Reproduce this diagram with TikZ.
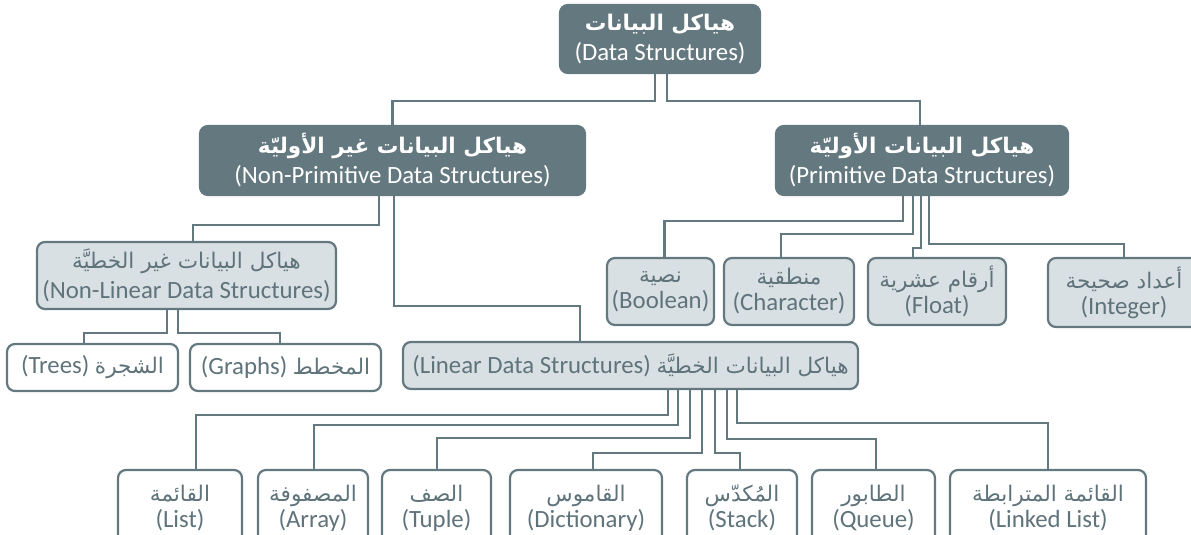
\documentclass[tikz,border=0pt]{standalone}
\usepackage{fontspec}
\setmainfont{Carlito}
\newfontfamily\arabicfont[Script=Arabic,Scale=0.87]{DejaVu Sans}
\TeXXeTstate=1
\usetikzlibrary{calc}

\definecolor{slate}{HTML}{647880}
\definecolor{mist}{HTML}{D9E0E3}
\definecolor{ink}{HTML}{5F737B}
\newcommand\ar[1]{{\arabicfont\beginR#1\endR}}

\tikzset{
  wh/.style 2 args={minimum width=#1*0.5pt,minimum height=#2*0.5pt},
  base/.style={draw=slate,line width=1.1pt,rounded corners=4pt,inner sep=0pt,align=center,font=\fontsize{12.4}{15}\selectfont},
  head/.style={base,fill=slate,text=white},
  sub/.style={base,fill=mist,text=ink},
  leaf/.style={base,fill=white,text=ink},
  tight/.style={font=\fontsize{12.4}{13}\selectfont},
  link/.style={draw=slate,line width=1.1pt}
}

\begin{document}
\begin{tikzpicture}[x=0.5pt,y=-0.5pt]
\clip (0,0) rectangle (1191,535);
% top levels
\node[head,wh={200}{68}] (ds) at (660,39) {\ar{\bfseries هياكل البيانات}\\(Data Structures)};
\node[head,wh={385}{69}] (nonprim) at (392.5,160.5) {\ar{\bfseries هياكل البيانات غير الأوليّة}\\(Non-Primitive Data Structures)};
\node[head,wh={292}{69}] (prim) at (922,160.5) {\ar{\bfseries هياكل البيانات الأوليّة}\\(Primitive Data Structures)};

% primitive types
\node[sub,tight,wh={107}{67}] (bool) at (660.5,291.5) {\ar{نصية}\\(Boolean)};
\node[sub,tight,wh={130}{67}] (char) at (789,291.5) {\ar{منطقية}\\(Character)};
\node[sub,tight,wh={138}{67}] (float) at (937,291.5) {\ar{أرقام عشرية}\\(Float)};
\node[sub,tight,wh={152}{69}] (int) at (1124,292.5) {\ar{أعداد صحيحة}\\(Integer)};

% non-primitive types
\node[sub,wh={299}{67}] (nonlin) at (186.5,275.5) {\ar{هياكل البيانات غير الخطيَّة}\\(Non-Linear Data Structures)};
\node[leaf,wh={171}{47}] (trees) at (92.5,367.5) {(Trees) \ar{الشجرة}};
\node[leaf,wh={191}{47}] (graphs) at (285.5,367.5) {(Graphs) \ar{المخطط}};
\node[sub,wh={455}{47}] (linear) at (630.5,365.5) {(Linear Data Structures) \ar{هياكل البيانات الخطيَّة}};

% linear types
\node[leaf,tight,wh={124}{76}] (list) at (180,508) {\ar{القائمة}\\(List)};
\node[leaf,tight,wh={110}{76}] (array) at (313,508) {\ar{المصفوفة}\\(Array)};
\node[leaf,tight,wh={109}{76}] (tuple) at (436.5,508) {\ar{الصف}\\(Tuple)};
\node[leaf,tight,wh={152}{76}] (dict) at (586,508) {\ar{القاموس}\\(Dictionary)};
\node[leaf,tight,wh={110}{76}] (stack) at (742,508) {\ar{المُكدّس}\\(Stack)};
\node[leaf,tight,wh={123}{76}] (queue) at (873.5,508) {\ar{الطابور}\\(Queue)};
\node[leaf,tight,wh={196}{76}] (linked) at (1048,508) {\ar{القائمة المترابطة}\\(Linked List)};

% connectors
\draw[link] ($(ds.south)+(-5,0)$) -- ++(0,27) -| (nonprim.north);
\draw[link] ($(ds.south)+(7,0)$) -- ++(0,27) -| ($(prim.north)+(-2,0)$);
\foreach \dx/\dy/\t/\tx in {-19/25/bool/4, -9/38/char/-8, -1/52/float/-24, 7/48/int/0}
  \draw[link] ($(prim.south)+(\dx,0)$) -- ++(0,\dy) -| ($(\t.north)+(\tx,0)$);
\foreach \dx/\dy/\t/\tx in {-13.5/29/nonlin/6.5, 1.5/110/linear/-50.5}
  \draw[link] ($(nonprim.south)+(\dx,0)$) -- ++(0,\dy) -| ($(\t.north)+(\tx,0)$);
\foreach \dx/\dy/\t/\tx in {-19.5/23/trees/-8.5, -8.5/23/graphs/-5.5}
  \draw[link] ($(nonlin.south)+(\dx,0)$) -- ++(0,\dy) -| ($(\t.north)+(\tx,0)$);
\foreach \dx/\dy/\t/\tx in {37.5/25/list/16, 47.5/35/array/1, 59.5/48/tuple/0.5, 71.5/63/dict/7, 84.5/63/stack/-2, 96.5/49/queue/2.5, 106.5/33/linked/0}
  \draw[link] ($(linear.south)+(\dx,0)$) -- ++(0,\dy) -| ($(\t.north)+(\tx,0)$);
\end{tikzpicture}
\end{document}
